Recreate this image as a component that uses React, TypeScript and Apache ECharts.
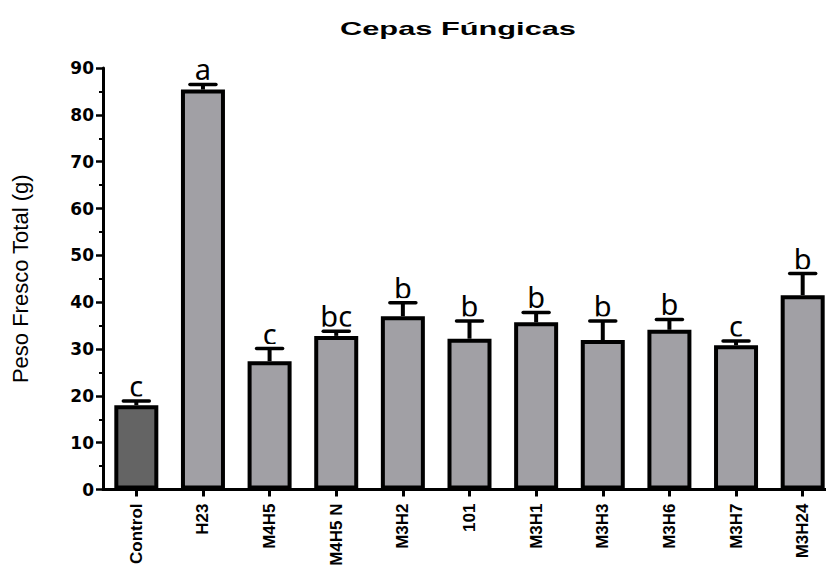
import React, { useEffect, useRef } from 'react';
import * as echarts from 'echarts';

const categories = ['Control', 'H23', 'M4H5', 'M4H5 N', 'M3H2', '101', 'M3H1', 'M3H3', 'M3H6', 'M3H7', 'M3H24'];
const means = [18.0, 85.4, 27.4, 32.8, 37.0, 32.2, 35.7, 31.9, 34.1, 30.8, 41.5];
const errors = [0.9, 1.1, 2.7, 1.0, 2.9, 3.8, 2.1, 4.1, 2.2, 0.9, 4.6];
const letters = ['c', 'a', 'c', 'bc', 'b', 'b', 'b', 'b', 'b', 'c', 'b'];
const yMin = 0;
const yMax = 90;
const yStep = 10;
const titleText = 'Cepas Fúngicas';
const yName = 'Peso Fresco Total (g)';

export default function App() {
  const ref = useRef<HTMLDivElement>(null);
  useEffect(() => {
    const chart = echarts.init(ref.current!, null, { renderer: 'svg' });
    chart.setOption({
      animation: false,
      backgroundColor: '#ffffff',
      graphic: [
        {
          type: 'text',
          x: 458,
          y: 28.5,
          scaleX: 1.62,
          style: {
            text: titleText,
            align: 'center',
            verticalAlign: 'middle',
            fontSize: 19,
            fontWeight: 'bold',
            fontFamily: 'Liberation Sans, Arial, sans-serif',
            fill: '#000',
          },
        },
      ],
      grid: { left: 103, top: 68, width: 733, height: 421.5, containLabel: false, outerBoundsMode: 'none' },
      xAxis: {
        type: 'category',
        data: categories,
        axisLine: { show: true, lineStyle: { color: '#000', width: 3 } },
        axisTick: { show: true, alignWithLabel: true, length: 7, lineStyle: { color: '#000', width: 3 } },
        axisLabel: {
          rotate: 90,
          margin: 14,
          color: '#000',
          fontSize: 17,
          fontWeight: 'bold',
          fontFamily: 'Liberation Sans, Arial, sans-serif',
          interval: 0,
        },
      },
      yAxis: {
        type: 'value',
        min: yMin,
        max: yMax,
        interval: yStep,
        name: yName,
        nameLocation: 'middle',
        nameGap: 72,
        nameTextStyle: { fontSize: 22, color: '#000', fontFamily: 'Liberation Sans, Arial, sans-serif' },
        axisLine: { show: true, lineStyle: { color: '#000', width: 3 } },
        axisTick: { show: true, length: 7, lineStyle: { color: '#000', width: 2.5 } },
        minorTick: { show: true, splitNumber: 2, length: 4, lineStyle: { color: '#000', width: 2 } },
        splitLine: { show: false },
        axisLabel: {
          margin: 9,
          color: '#000',
          fontSize: 17,
          fontWeight: 'bold',
          fontFamily: 'DejaVu Sans, sans-serif',
        },
      },
      series: [
        {
          type: 'bar',
          barWidth: 44,
          data: means.map((v, i) => ({
            value: v,
            itemStyle: { color: i === 0 ? '#646464' : '#a1a0a5' },
          })),
          itemStyle: { borderColor: '#000', borderWidth: 4 },
          z: 2,
        },
        {
          type: 'custom',
          z: 5,
          silent: true,
          clip: false,
          encode: { x: 0, y: 1 },
          data: means.map((v, i) => [i, v, errors[i]]),
          renderItem: (params: any, api: any) => {
            const i = api.value(0);
            const m = api.value(1);
            const e = api.value(2);
            const top = api.coord([i, m]);
            const cap = api.coord([i, m + e]);
            return {
              type: 'group',
              children: [
                {
                  type: 'text',
                  style: {
                    text: letters[params.dataIndex],
                    x: cap[0],
                    y: cap[1] - 1,
                    align: 'center',
                    verticalAlign: 'bottom',
                    fontSize: 29,
                    fontFamily: 'Noto Sans, Open Sans, sans-serif',
                    fill: '#000',
                  },
                },
                {
                  type: 'rect',
                  shape: { x: cap[0] - 14, y: cap[1] - 4.5, width: 28, height: 3 },
                  style: { fill: '#fff' },
                },
                {
                  type: 'line',
                  shape: { x1: top[0], y1: top[1], x2: cap[0], y2: cap[1] },
                  style: { stroke: '#000', lineWidth: 4 },
                },
                {
                  type: 'line',
                  shape: { x1: cap[0] - 13, y1: cap[1], x2: cap[0] + 13, y2: cap[1] },
                  style: { stroke: '#000', lineWidth: 3.5, lineCap: 'round' },
                },
              ],
            };
          },
        },
      ],
    });
    return () => chart.dispose();
  }, []);
  return (
    <div
      style={{ position: 'absolute', left: 0, top: 0, width: 826, height: 568, overflow: 'hidden', background: '#fff' }}
    >
      <div ref={ref} style={{ width: 826, height: 568, overflow: 'hidden' }} />
    </div>
  );
}
